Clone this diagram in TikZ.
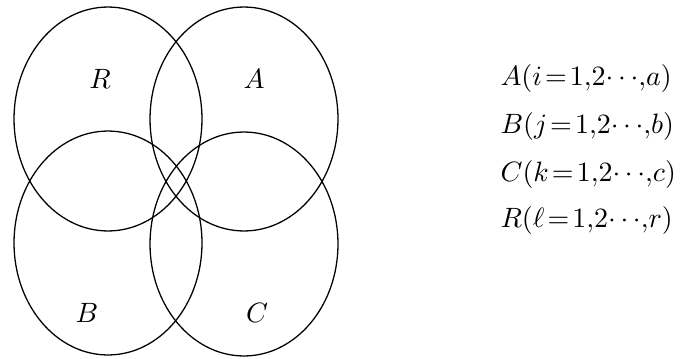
\documentclass[tikz,border=0pt]{standalone}
\usepackage{amsmath, amssymb}
\usepackage{tikz}
\usetikzlibrary{shapes.geometric, positioning}

\begin{document}
\begin{tikzpicture}[
    x=0.01376cm, y=0.01376cm,
    set/.style={ellipse, draw=black, line width=0.5pt, minimum width=2.587cm, minimum height=3.082cm, inner sep=0pt},
    setlabel/.style={font=\fontsize{10.5}{12}\selectfont, inner sep=0pt},
    index/.style={font=\fontsize{10.8}{13}\selectfont, anchor=base west, inner sep=0pt}
]
\useasboundingbox (0,0) rectangle (681,358);

% the four sets
\node[set] (setR) at (108,239) {};
\node[set] (setA) at (244,239) {};
\node[set] (setB) at (108,115) {};
\node[set] (setC) at (244,114) {};

\node[setlabel] (labR) at (100,279) {$R$};
\node[setlabel] (labA) at (254,279) {$A$};
\node[setlabel] (labB) at (87,45) {$B$};
\node[setlabel] (labC) at (257,45) {$C$};

% index ranges
\node[index] (idxA) at (500,272) {$A(i\mkern2mu{=}\mkern2mu1{,}2{\cdots}{,}a)$};
\node[index] (idxB) at (500,225) {$B(j\mkern2mu{=}\mkern2mu1{,}2{\cdots}{,}b)$};
\node[index] (idxC) at (500,177) {$C(k\mkern2mu{=}\mkern2mu1{,}2{\cdots}{,}c)$};
\node[index] (idxR) at (500,131) {$R(\ell\mkern2mu{=}\mkern2mu1{,}2{\cdots}{,}r)$};

\end{tikzpicture}
\end{document}
